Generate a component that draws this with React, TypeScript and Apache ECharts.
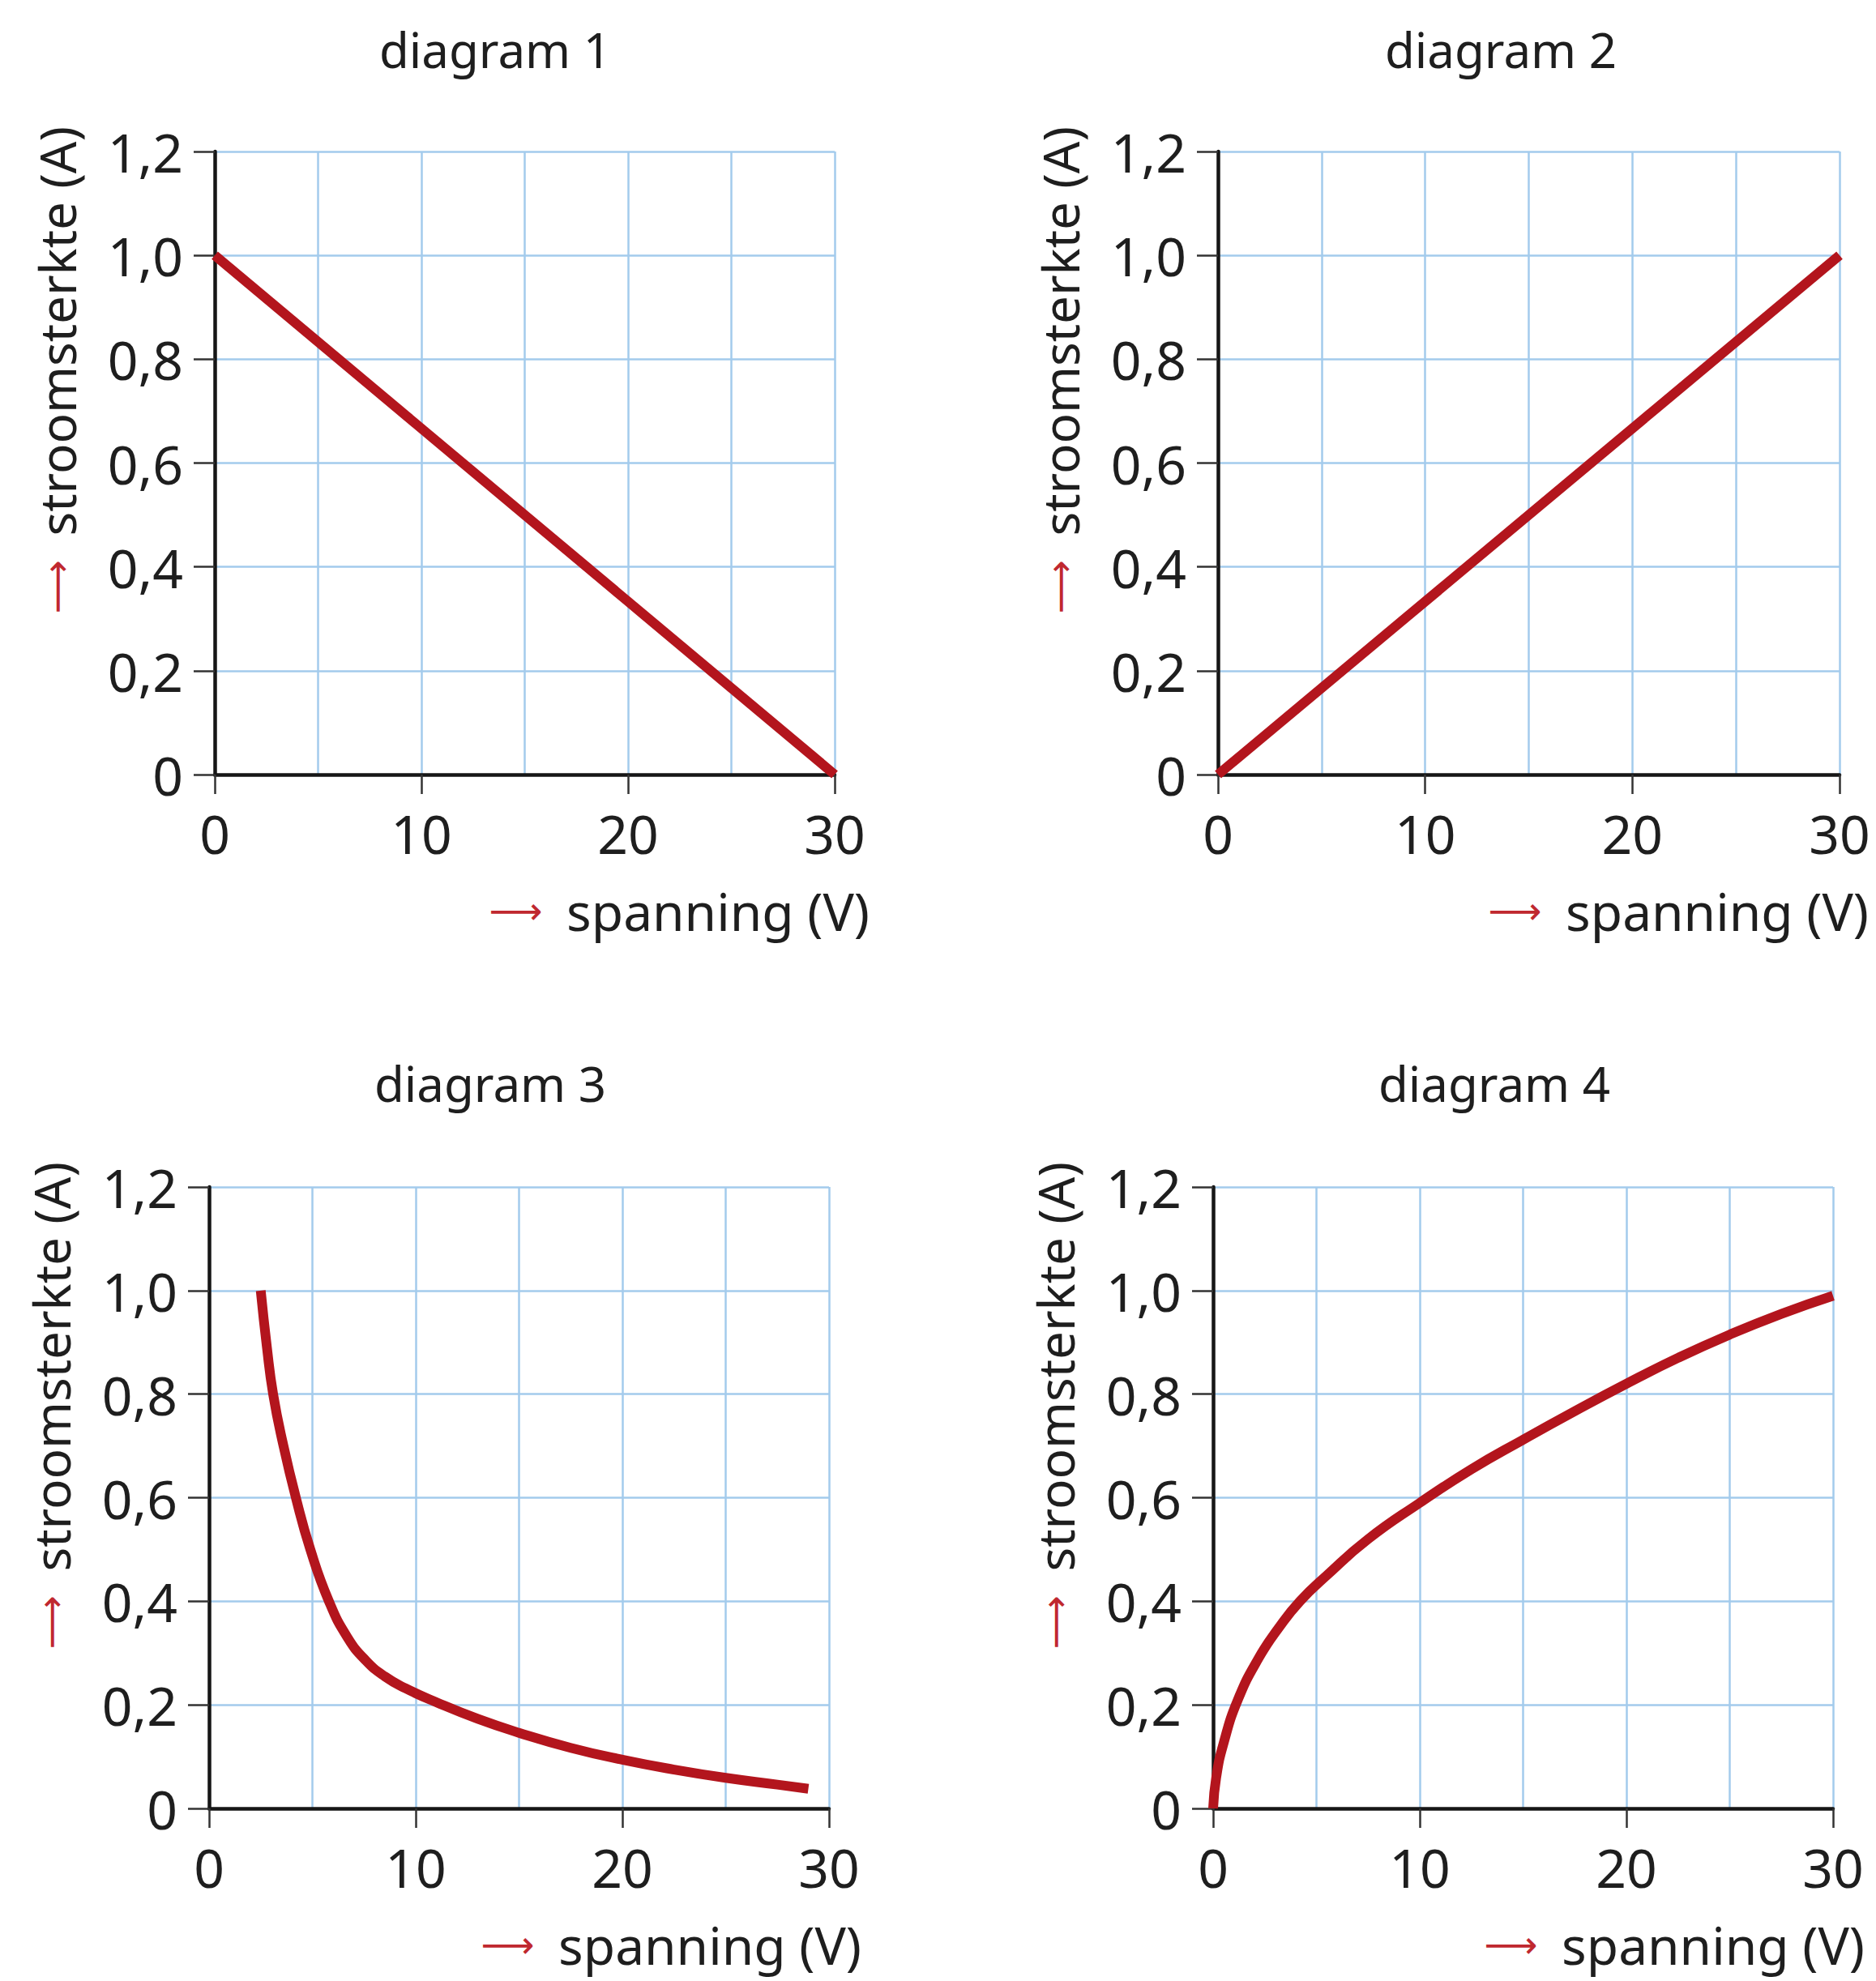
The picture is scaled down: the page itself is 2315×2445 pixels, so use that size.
import React, { useEffect, useRef } from "react";
import * as echarts from "echarts";

// ---- data ----
const titles = ["diagram 1", "diagram 2", "diagram 3", "diagram 4"];
const xTicks = [0, 10, 20, 30];
const yTicks = [0, 0.2, 0.4, 0.6, 0.8, 1.0, 1.2];
const xAxisTitle = "spanning (V)";
const yAxisTitle = "stroomsterkte (A)";

const d1Volt = [0, 30];
const d1Amp = [1.0, 0];

const d2Volt = [0, 30];
const d2Amp = [0, 1.0];

const d3Volt = [2.5, 2.8, 3.1, 3.6, 4.2, 4.9, 5.8, 6.7, 7.6, 8.5, 9.5, 11, 13, 15, 17.5, 20, 22.5, 25, 27.5, 29];
const d3Amp = [1.0, 0.89, 0.8, 0.7, 0.6, 0.5, 0.4, 0.33, 0.285, 0.255, 0.232, 0.205, 0.173, 0.146, 0.117, 0.094, 0.075, 0.059, 0.046, 0.038];

const d4Volt = [0, 0.15, 0.5, 1.2, 2.2, 3.2, 4.2, 5.5, 7.5, 10, 12.5, 15, 17.5, 20, 22.5, 25, 27.5, 30];
const d4Amp = [0, 0.06, 0.125, 0.21, 0.29, 0.35, 0.4, 0.45, 0.52, 0.59, 0.655, 0.712, 0.767, 0.82, 0.87, 0.915, 0.955, 0.99];

const volts = [d1Volt, d2Volt, d3Volt, d4Volt];
const amps = [d1Amp, d2Amp, d3Amp, d4Amp];
const smoothFlags = [false, false, true, true];

// ---- layout / style ----
const W = 2315;
const H = 2445;
const grids = [
  { left: 265, top: 187, width: 765, height: 769 },
  { left: 1503, top: 187, width: 767, height: 769 },
  { left: 258, top: 1465, width: 765, height: 767 },
  { left: 1497, top: 1465, width: 765, height: 767 },
];
const titlePos = [
  { x: 611, y: 31 },
  { x: 1852, y: 31 },
  { x: 605, y: 1307 },
  { x: 1844, y: 1307 },
];
const xNameGap = [43, 36, 40, 39];

const FONT = "'Noto Sans', 'DejaVu Sans', sans-serif";
const TEXT = "#1e1e1e";
const RED = "#b3151d";
const ARROW_RED = "#c0282f";
const GRID_BLUE = "#a3cbec";
const AXIS_BLACK = "#161616";

function fmtY(v: number) {
  if (Math.abs(v) < 1e-9) return "0";
  return v.toFixed(1).replace(".", ",");
}

export default function App() {
  const ref = useRef<HTMLDivElement | null>(null);

  useEffect(() => {
    document.body.style.margin = "0";
    document.body.style.background = "#ffffff";
    if (!ref.current) return;
    const chart = echarts.init(ref.current, undefined, { renderer: "svg" });

    const arrowRich = {
      a: {
        color: ARROW_RED,
        fontFamily: "'DejaVu Sans', sans-serif",
        fontSize: 46,
        fontWeight: "normal",
        padding: [0, 30, 0, 0],
      },
    };

    const option: any = {
      animation: false,
      backgroundColor: "#ffffff",
      title: titles.map((t, i) => ({
        text: t,
        left: titlePos[i].x,
        top: titlePos[i].y,
        textAlign: "center",
        padding: 0,
        textStyle: { fontFamily: FONT, fontSize: 60, fontWeight: "normal", color: TEXT },
      })),
      grid: grids.map((g) => ({ ...g, containLabel: false })),
      xAxis: grids.map((_, i) => ({
        type: "value",
        gridIndex: i,
        min: xTicks[0],
        max: xTicks[xTicks.length - 1],
        interval: xTicks[1] - xTicks[0],
        name: "{a|⟶}" + xAxisTitle,
        nameLocation: "end",
        nameGap: xNameGap[i],
        nameTextStyle: {
          fontFamily: FONT,
          fontSize: 64,
          color: TEXT,
          align: "right",
          verticalAlign: "middle",
          padding: [336, 0, 0, 0],
          rich: arrowRich,
        },
        axisLine: { show: true, onZero: false, lineStyle: { color: AXIS_BLACK, width: 4.5 } },
        axisTick: { show: true, length: 24, lineStyle: { color: "#333333", width: 2.5 } },
        minorTick: { show: false, splitNumber: 2 },
        axisLabel: {
          show: true,
          margin: 39,
          fontFamily: FONT,
          fontSize: 66,
          color: TEXT,
          showMinLabel: true,
          showMaxLabel: true,
          formatter: (v: number) => String(v),
        },
        splitLine: { show: true, lineStyle: { color: GRID_BLUE, width: 2.5 } },
        minorSplitLine: { show: true, lineStyle: { color: GRID_BLUE, width: 2.5 } },
      })),
      yAxis: grids.map((_, i) => ({
        type: "value",
        gridIndex: i,
        min: yTicks[0],
        max: yTicks[yTicks.length - 1],
        interval: 0.2,
        name: "{a|⟶}" + yAxisTitle,
        nameLocation: "end",
        nameGap: 31,
        nameRotate: 90,
        nameTextStyle: {
          fontFamily: FONT,
          fontSize: 62,
          color: TEXT,
          align: "right",
          verticalAlign: "middle",
          padding: [0, 0, 390, 0],
          rich: arrowRich,
        },
        axisLine: { show: true, onZero: false, lineStyle: { color: AXIS_BLACK, width: 4.5 } },
        axisTick: { show: true, length: 26, lineStyle: { color: "#333333", width: 2.5 } },
        axisLabel: {
          show: true,
          margin: 39,
          fontFamily: FONT,
          fontSize: 66,
          color: TEXT,
          showMinLabel: true,
          showMaxLabel: true,
          formatter: (v: number) => fmtY(v),
        },
        splitLine: { show: true, lineStyle: { color: GRID_BLUE, width: 2.5 } },
      })),
      series: volts.map((vs, i) => ({
        type: "line",
        xAxisIndex: i,
        yAxisIndex: i,
        data: vs.map((v, j) => [v, amps[i][j]]),
        smooth: smoothFlags[i] ? 0.5 : false,
        showSymbol: false,
        symbol: "none",
        clip: false,
        lineStyle: { color: RED, width: 12, cap: "butt", join: "round" },
        z: 5,
      })),
    };

    chart.setOption(option);
    return () => {
      chart.dispose();
    };
  }, []);

  return <div ref={ref} style={{ width: W, height: H, background: "#ffffff" }} />;
}
